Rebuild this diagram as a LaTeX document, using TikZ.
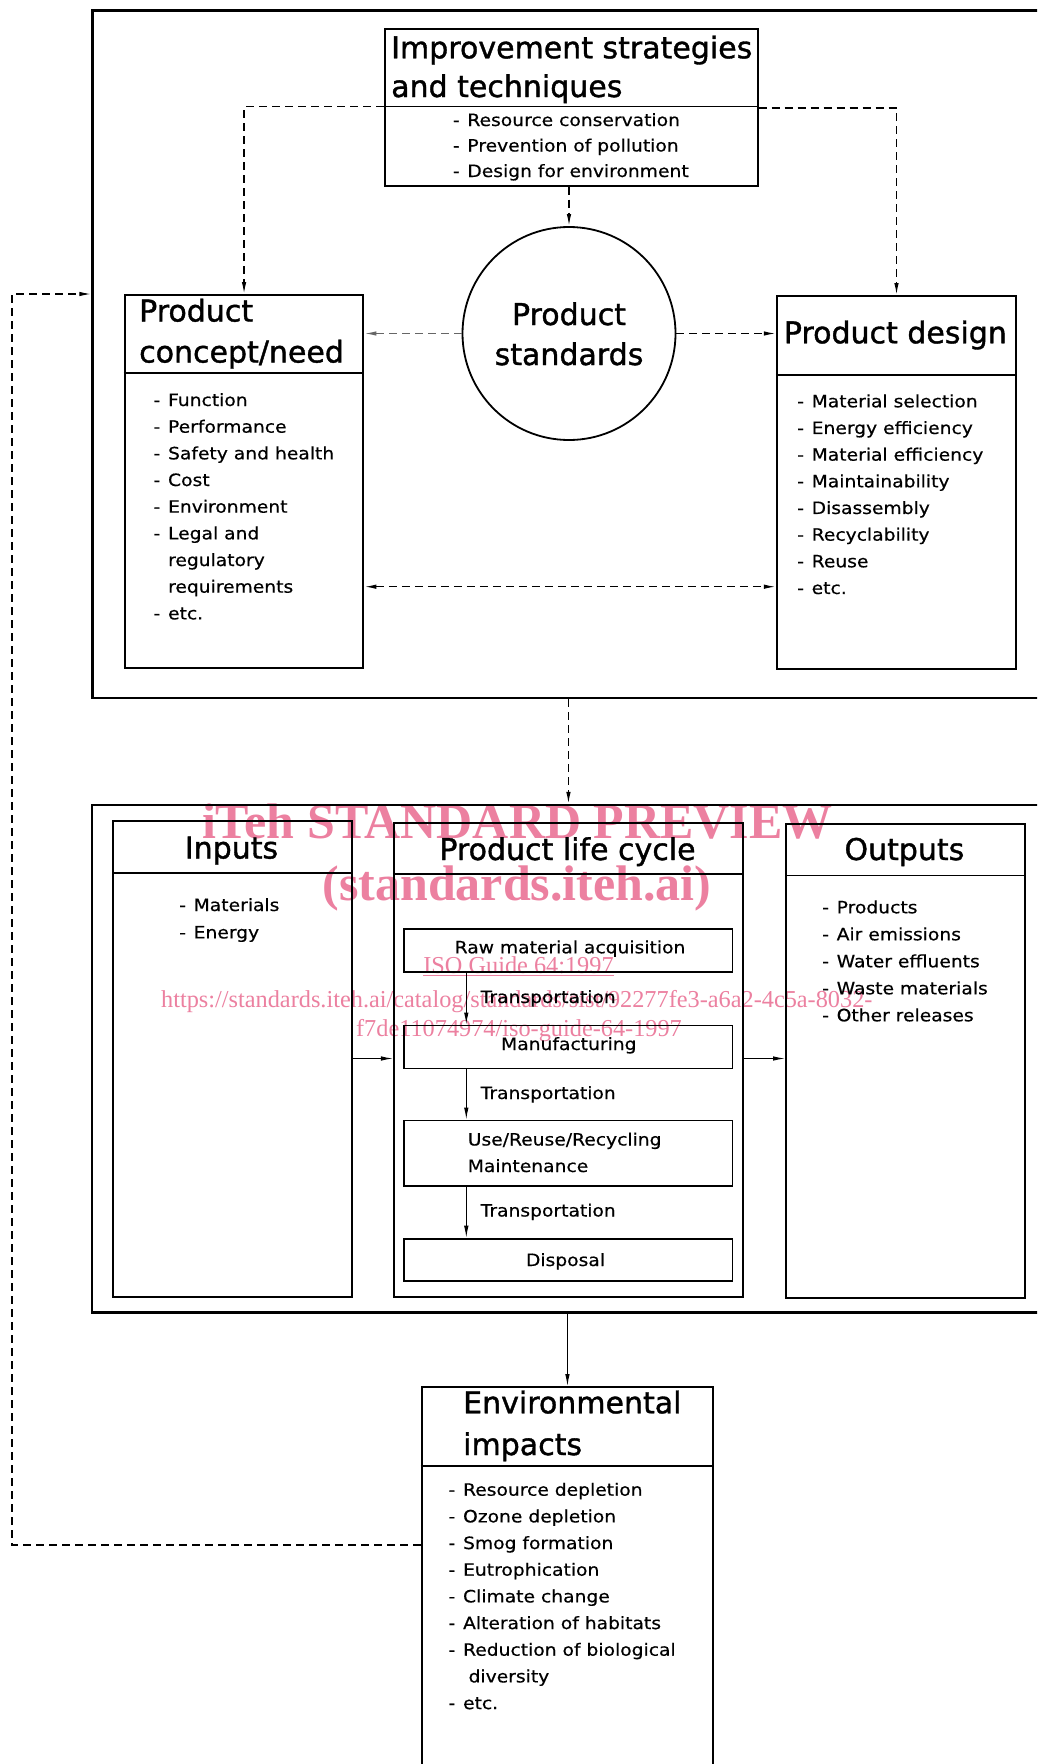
\documentclass[tikz,border=0pt]{standalone}
\usepackage{fontspec}
\setmainfont{DejaVu Sans}
\newfontfamily\ttlfont[FakeBold=1.2]{DejaVu Sans}
\newfontfamily\itemfont[FakeStretch=1.1,FakeBold=0.5]{DejaVu Sans}
\newfontfamily\wmfont{Liberation Serif}
\usetikzlibrary{arrows.meta,calc}
\definecolor{wm}{RGB}{236,128,160}
\newcommand\dd{\makebox[14.5pt][l]{-}}
\newcommand\mylist[5]{\foreach \itx [count=\cnt] in {#5}{\node[itm] (#1\cnt) at (#2,{#3+(\cnt-1)*#4}) {\itx};}}
\begin{document}
\begin{tikzpicture}[x=1pt,y=-1pt,
  >={Latex[length=12pt,width=4.5pt]},
  box/.style={draw, line width=2pt, inner sep=0pt, anchor=north west},
  ibox/.style={draw, line width=1.8pt, inner sep=0pt, anchor=north west},
  ttl/.style={anchor=base west, inner sep=0pt, font=\ttlfont\fontsize{30}{36}\selectfont},
  ttlc/.style={anchor=base, inner sep=0pt, font=\ttlfont\fontsize{30}{36}\selectfont},
  itm/.style={anchor=base west, inner sep=0pt, font=\itemfont\fontsize{17}{20}\selectfont},
  itmc/.style={anchor=base, inner sep=0pt, font=\itemfont\fontsize{17}{20}\selectfont},
  dsh/.style={line width=1.3pt, dash pattern=on 8pt off 5pt},
  thin/.style={line width=1pt},
  divl/.style={line width=1.8pt},
  wmb/.style={anchor=base, inner sep=0pt, text=wm, font=\wmfont\bfseries\fontsize{50}{50}\selectfont},
  wmr/.style={anchor=base, inner sep=0pt, text=wm, font=\wmfont\fontsize{24.3}{25}\selectfont}]
\path[use as bounding box] (0,0) rectangle (1037,1764);
\fill[white] (0,0) rectangle (1037,1764);
\clip (0,0) rectangle (1037,1764);

% watermark (behind)
\node[wmb] (wm1) at (517.4,838) {iTeh STANDARD PREVIEW};
\node[wmb] (wm2) at (517,900) {(standards.iteh.ai)};
\node[wmr] (wm3) at (518.5,973) {\underline{ISO Guide 64:1997}};
\node[wmr] (wm4) at (516.8,1007) {https://standards.iteh.ai/catalog/standards/sist/92277fe3-a6a2-4c5a-8032-};
\node[wmr] (wm5) at (519,1036) {f7de11074974/iso-guide-64-1997};

% ---------- upper part ----------
\node[box, line width=2.2pt, minimum width=1000pt, minimum height=687.7pt] (outerTop) at (91.3,9.3) {};
\node[box, minimum width=373pt, minimum height=157pt] (imp) at (383.5,27.5) {};
\draw[divl] ([yshift=-79pt]imp.north west) -- ([yshift=-79pt]imp.north east);
\node[ttl] (impT1) at (391,58.3) {Improvement strategies};
\node[ttl] (impT2) at (391,97) {and techniques};
\mylist{ii}{452.7}{126}{25.5}{\dd Resource conservation, \dd Prevention of pollution, \dd Design for environment}

\node[draw, circle, line width=1.8pt, minimum size=213pt, inner sep=0pt] (circ) at (569,333.5) {};
\node[ttlc] (circT1) at (569,325) {Product};
\node[ttlc] (circT2) at (569,365) {standards};

\node[box, minimum width=238.7pt, minimum height=372.7pt] (concept) at (123.7,294) {};
\draw[divl] ([yshift=-79.3pt]concept.north west) -- ([yshift=-79.3pt]concept.north east);
\node[ttl] (conT1) at (139,321.5) {Product};
\node[ttl] (conT2) at (139,362.5) {concept/need};
\mylist{ci}{153.4}{406}{26.67}{\dd Function, \dd Performance, \dd Safety and health, \dd Cost, \dd Environment, \dd Legal and, \hspace{14.5pt}regulatory, \hspace{14.5pt}requirements, \dd etc.}

\node[box, minimum width=239.4pt, minimum height=372.7pt] (design) at (775.8,295) {};
\draw[divl] ([yshift=-80pt]design.north west) -- ([yshift=-80pt]design.north east);
\node[ttl] (desT) at (783.7,343.3) {Product design};
\mylist{di}{797}{407.3}{26.67}{\dd Material selection, \dd Energy efficiency, \dd Material efficiency, \dd Maintainability, \dd Disassembly, \dd Recyclability, \dd Reuse, \dd etc.}

% upper connectors
\coordinate (dvL) at (0,106.5);
\coordinate (dvR) at (0,108);
\coordinate (bi) at (0,586.7);
\draw[dsh,->] (imp.west |- dvL) -| (concept.north);
\draw[dsh,->] (imp.east |- dvR) -| (design.north);
\draw[dsh,->] (circ.north |- imp.south) -- (circ.north);
\draw[dsh,->,draw=black!60] (circ.west) -- (concept.east |- circ.west);
\draw[dsh,->] (circ.east) -- (design.west |- circ.east);
\draw[dsh,<->] (concept.east |- bi) -- (design.west |- bi);

% ---------- lower part ----------
\node[box, line width=2.2pt, minimum width=1000pt, minimum height=507.5pt] (outerBot) at (90.6,803.9) {};
\node[box, minimum width=238.1pt, minimum height=475.3pt] (inputs) at (112.4,820.3) {};
\draw[divl] ([yshift=-52.7pt]inputs.north west) -- ([yshift=-52.7pt]inputs.north east);
\node[ttlc] (inT) at (231.5,858.5) {Inputs};
\mylist{ni}{179}{911}{27.4}{\dd Materials, \dd Energy}

\node[box, minimum width=349.1pt, minimum height=474.3pt] (plc) at (392.9,822) {};
\draw[divl] ([yshift=-52pt]plc.north west) -- ([yshift=-52pt]plc.north east);
\node[ttlc] (plcT) at (567.5,860) {Product life cycle};

\node[box, minimum width=238.8pt, minimum height=474.3pt] (outputs) at (785,823.1) {};
\draw[divl] ([yshift=-52.3pt]outputs.north west) -- ([yshift=-52.3pt]outputs.north east);
\node[ttlc] (outT) at (904.4,860) {Outputs};
\mylist{oi}{822}{913.3}{27}{\dd Products, \dd Air emissions, \dd Water effluents, \dd Waste materials, \dd Other releases}

\node[ibox, minimum width=328.7pt, minimum height=43.2pt] (raw) at (402.8,928) {};
\node[itmc] (rawT) at (570,953.3) {Raw material acquisition};
\node[ibox, minimum width=328.7pt, minimum height=43.1pt] (manu) at (402.8,1024.5) {};
\node[itmc] (manuT) at (568.8,1050) {Manufacturing};
\node[ibox, minimum width=328.7pt, minimum height=65.6pt] (use) at (402.8,1119.5) {};
\node[itm] (useT1) at (467.6,1145.5) {Use/Reuse/Recycling};
\node[itm] (useT2) at (467.6,1172) {Maintenance};
\node[ibox, minimum width=328.7pt, minimum height=42.1pt] (disp) at (402.8,1237.7) {};
\node[itmc] (dispT) at (565.5,1266) {Disposal};

\node[itm] (tr1) at (480.5,1003) {Transportation};
\node[itm] (tr2) at (480.5,1099) {Transportation};
\node[itm] (tr3) at (480.5,1216.5) {Transportation};

\coordinate (tx) at (466.3,0);
\draw[thin,->] (raw.south -| tx) -- (manu.north -| tx);
\draw[thin,->] (manu.south -| tx) -- (use.north -| tx);
\draw[thin,->] (use.south -| tx) -- (disp.north -| tx);

\coordinate (ioy) at (0,1058.5);
\draw[thin,->] (inputs.east |- ioy) -- (plc.west |- ioy);
\draw[thin,->] (plc.east |- ioy) -- (outputs.west |- ioy);

\draw[dsh,->] (outerTop.south -| plc.north) -- (outerBot.north -| plc.north);

% ---------- environmental impacts ----------
\node[box, minimum width=291.7pt, minimum height=420pt] (env) at (420.6,1386) {};
\draw[divl] ([yshift=-79.7pt]env.north west) -- ([yshift=-79.7pt]env.north east);
\node[ttl] (envT1) at (463,1413.3) {Environmental};
\node[ttl] (envT2) at (463,1455) {impacts};
\mylist{ei}{448.4}{1495.7}{26.67}{\dd Resource depletion, \dd Ozone depletion, \dd Smog formation, \dd Eutrophication, \dd Climate change, \dd Alteration of habitats, \dd Reduction of biological, \hspace{20pt}diversity, \dd etc.}

\draw[thin,->] (outerBot.south -| env.north) -- (env.north);

\coordinate (fbB) at (12,1545);
\coordinate (fbT) at (12,294);
\draw[dsh,->] (env.west |- fbB) -- (fbB) -- (fbT) -- (outerTop.west |- fbT);
\end{tikzpicture}
\end{document}
